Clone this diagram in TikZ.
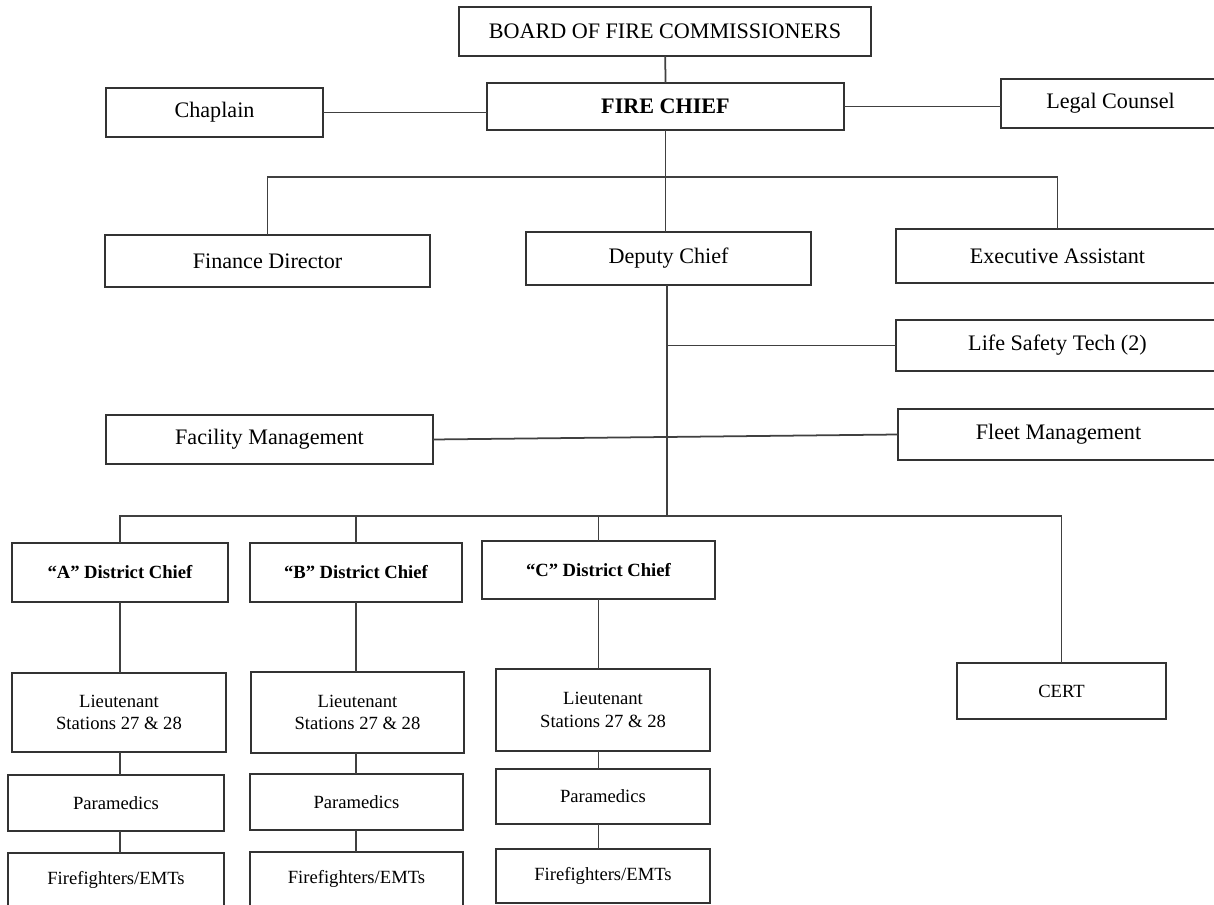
\documentclass[tikz,border=0pt]{standalone}
\usepackage{fontspec}
\setmainfont{Liberation Serif}
\usetikzlibrary{calc}

\begin{document}
\begin{tikzpicture}[x=0.02cm,y=-0.02cm,
    every node/.append style={font=\rmfamily, align=center, inner sep=0pt, outer sep=0pt},
    box/.style 2 args={draw=black!80, line width=1.1pt, fill=white,
                       minimum width=#1*0.02cm, minimum height=#2*0.02cm},
    big/.style={font=\fontsize{12.6}{14.5}\selectfont},
    small/.style={font=\fontsize{10.6}{13}\selectfont},
    link/.style={draw=black!75, line width=1pt}]
    \useasboundingbox (0,0) rectangle (1214,905);
    \clip (0,0) rectangle (1214,905);
    \fill[white] (0,0) rectangle (1214,905);

    % top of the chart
    \node[box={412}{49}, big] (board) at (665,31.5) {BOARD OF FIRE COMMISSIONERS};
    \node[box={357}{47}, big] (chief) at (665.5,106.5) {\textbf{FIRE CHIEF}};
    \node[box={217}{49}, big] (chaplain) at (214.5,112.5) {Chaplain};
    \node[box={219}{49}, big] (legal) at (1110.5,103.5) {Legal Counsel};
    \node[box={325}{52}, big] (finance) at (267.5,261) {Finance Director};
    \node[box={285}{53}, big] (deputy) at (668.5,258.5) {Deputy Chief};
    \node[box={323}{54}, big] (exec) at (1057.5,256) {Executive Assistant};
    \node[box={323}{51}, big] (lifesafety) at (1057.5,345.5) {Life Safety Tech (2)};
    \node[box={327}{49}, big] (facility) at (269.5,439.5) {Facility Management};
    \node[box={321}{51}, big] (fleet) at (1058.5,434.5) {Fleet Management};

    % districts
    \node[box={216}{59}, small] (chiefA) at (120,572.5) {\textbf{``A'' District Chief}};
    \node[box={212}{59}, small] (chiefB) at (356,572.5) {\textbf{``B'' District Chief}};
    \node[box={233}{58}, small] (chiefC) at (598.5,570) {\textbf{``C'' District Chief}};
    \node[box={209}{56}, small] (cert) at (1061.5,691) {CERT};
    \node[box={214}{79}, small] (ltA) at (119,712.5) {Lieutenant\\Stations 27 \& 28};
    \node[box={213}{81}, small] (ltB) at (357.5,712.5) {Lieutenant\\Stations 27 \& 28};
    \node[box={214}{82}, small] (ltC) at (603,710) {Lieutenant\\Stations 27 \& 28};
    \node[box={216}{56}, small] (paraA) at (116,803) {Paramedics};
    \node[box={213}{56}, small] (paraB) at (356.5,802) {Paramedics};
    \node[box={214}{55}, small] (paraC) at (603,796.5) {Paramedics};
    \node[box={216}{53}, small] (ffA) at (116,879.5) {Firefighters/EMTs};
    \node[box={213}{54}, small] (ffB) at (356.5,879) {Firefighters/EMTs};
    \node[box={214}{54}, small] (ffC) at (603,876) {Firefighters/EMTs};

    \coordinate (fcbus) at (666,177);
    \coordinate (dcbus) at (667,516);
    \coordinate (lstap) at (667,345.5);

    \path[link] (board) -- (chief.north);
    \path[link] (chaplain.east) -- (chaplain.east -| chief.west);
    \path[link] (chief.east) -- (chief.east -| legal.west);
    \path[link] (chief.south) -- (chief.south |- deputy.north);
    \path[link] (finance.north) |- (fcbus) -| (exec.north);
    \path[link] (deputy.south -| dcbus) -- (dcbus);
    \path[link] (lstap) -- (lifesafety.west);
    \path[link] (facility.east) -- (fleet.west);
    \path[link] (chiefA.north) |- (dcbus) -| (cert.north);
    \path[link] (chiefB.north) -- (chiefB.north |- dcbus);
    \path[link] (chiefC.north) -- (chiefC.north |- dcbus);
    \foreach \c in {A,B,C} {
      \path[link] (chief\c.south) -- (chief\c.south |- lt\c.north);
      \path[link] (lt\c.south -| chief\c.south) -- (chief\c.south |- para\c.north);
      \path[link] (para\c.south -| chief\c.south) -- (chief\c.south |- ff\c.north);
    }
\end{tikzpicture}
\end{document}
